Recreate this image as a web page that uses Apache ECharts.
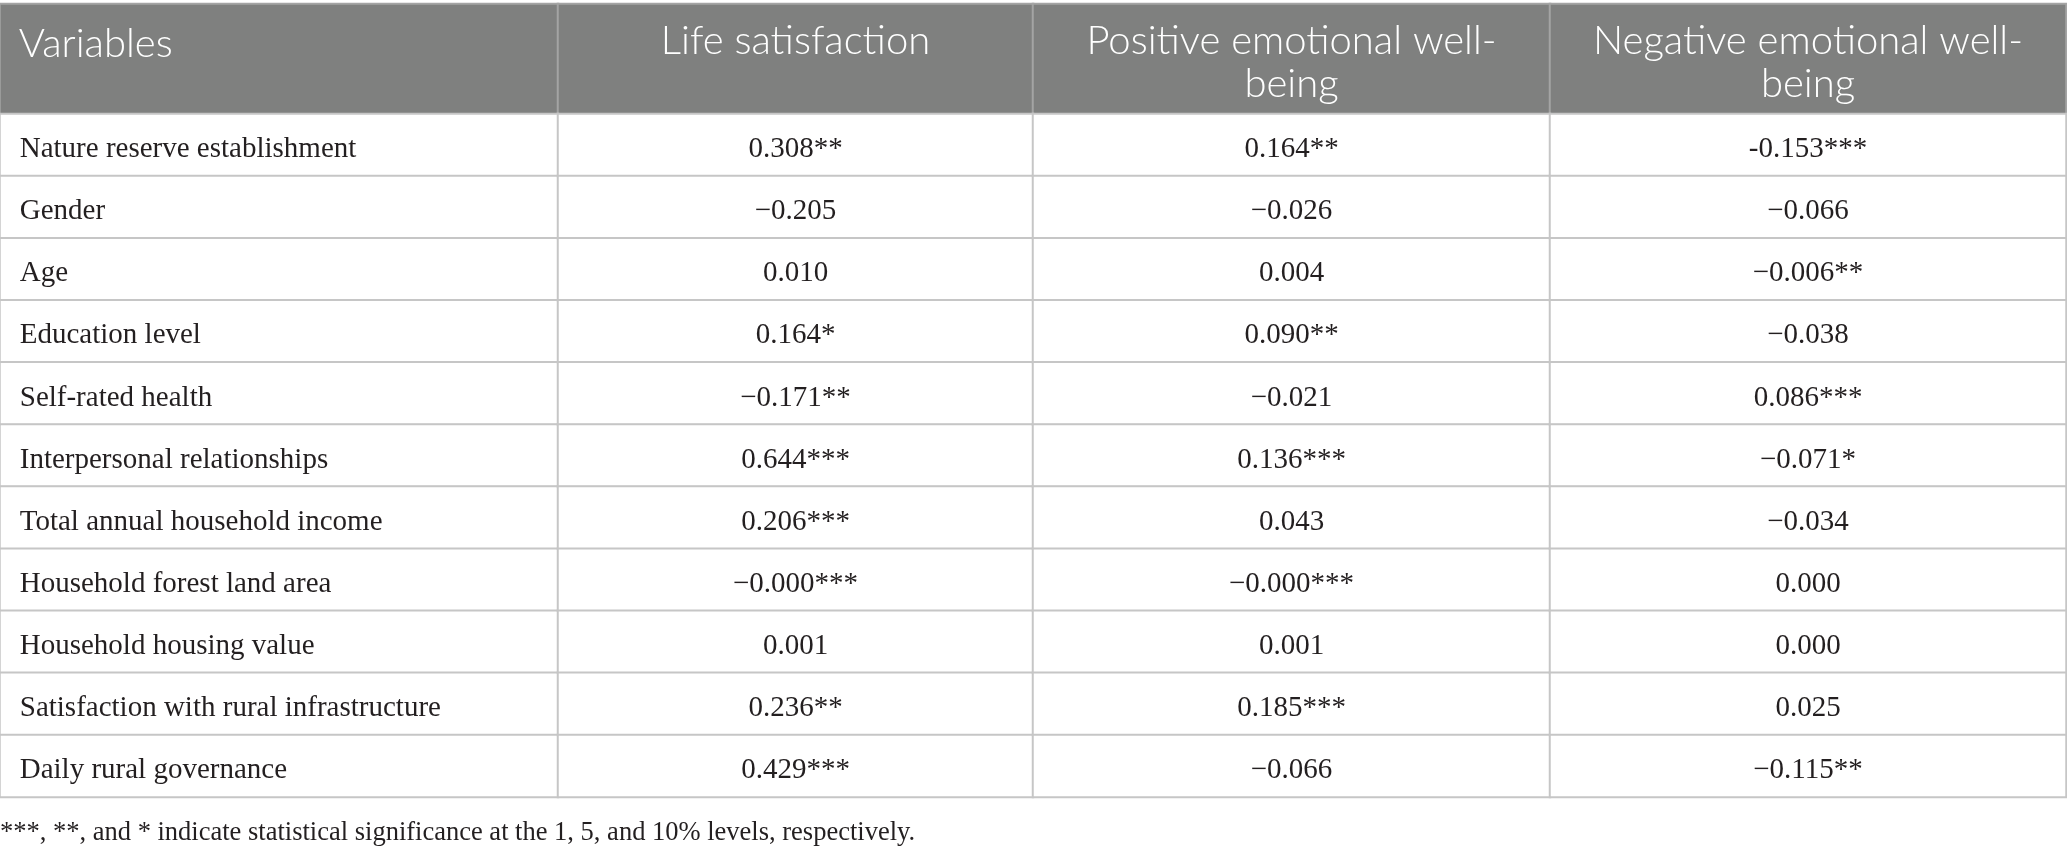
<!DOCTYPE html>
<html><head><meta charset="utf-8">
<script src="https://cdn.jsdelivr.net/npm/echarts@6/dist/echarts.min.js"></script>
<style>html,body{margin:0;padding:0;background:#fff}#c{width:2067px;height:851px}</style>
</head><body><div id="c"></div>
<script>
// ---- data ----
const columns = ['Variables', 'Life satisfaction', 'Positive emotional well-being', 'Negative emotional well-being'];
const variables = [
  'Nature reserve establishment', 'Gender', 'Age', 'Education level', 'Self-rated health',
  'Interpersonal relationships', 'Total annual household income', 'Household forest land area',
  'Household housing value', 'Satisfaction with rural infrastructure', 'Daily rural governance'
];
const lifeSatisfaction = ['0.308**', '\u22120.205', '0.010', '0.164*', '\u22120.171**', '0.644***', '0.206***', '\u22120.000***', '0.001', '0.236**', '0.429***'];
const positiveWellBeing = ['0.164**', '\u22120.026', '0.004', '0.090**', '\u22120.021', '0.136***', '0.043', '\u22120.000***', '0.001', '0.185***', '\u22120.066'];
const negativeWellBeing = ['-0.153***', '\u22120.066', '\u22120.006**', '\u22120.038', '0.086***', '\u22120.071*', '\u22120.034', '0.000', '0.000', '0.025', '\u22120.115**'];
const footnote = '***, **, and * indicate statistical significance at the 1, 5, and 10% levels, respectively.';

// ---- layout ----
const colEdges = [0, 558, 1033, 1550, 2066];
const headerTop = 4, headerBottom = 114, bodyBottom = 797;
const colTexts = [variables, lifeSatisfaction, positiveWellBeing, negativeWellBeing];
const toNum = s => parseFloat(String(s).replace('\u2212', '-').replace(/\*/g, ''));

const grid = [], xAxis = [], yAxis = [], series = [];
for (let c = 0; c < 4; c++) {
  grid.push({ left: colEdges[c], width: colEdges[c + 1] - colEdges[c], top: headerTop, height: headerBottom - headerTop });
}
for (let c = 0; c < 4; c++) {
  grid.push({ left: colEdges[c], width: colEdges[c + 1] - colEdges[c], top: headerBottom, height: bodyBottom - headerBottom });
}
for (let c = 0; c < 4; c++) {
  xAxis.push({ type: 'category', gridIndex: c, data: [columns[c]], show: false });
  yAxis.push({ type: 'category', gridIndex: c, data: ['header'], show: false });
}
for (let c = 0; c < 4; c++) {
  xAxis.push({ type: 'category', gridIndex: 4 + c, data: [columns[c]], show: false });
  yAxis.push({ type: 'category', gridIndex: 4 + c, data: variables, inverse: true, show: false });
}
// header cells
for (let c = 0; c < 4; c++) {
  series.push({
    type: 'heatmap', xAxisIndex: c, yAxisIndex: c, silent: true,
    data: [[0, 0, c]],
    itemStyle: { color: '#7f807f', borderColor: '#a4a4a4', borderWidth: 2 },
    emphasis: { disabled: true },
    label: {
      show: true,
      position: c === 0 ? 'insideTopLeft' : 'insideTop',
      distance: c === 0 ? 20 : 17,
      color: '#ffffff', fontFamily: 'Lato', fontWeight: 300, fontSize: 40, lineHeight: 43,
      align: c === 0 ? 'left' : 'center',
      formatter: () => columns[c].replace('well-', 'well-\n')
    }
  });
}
// body cells
for (let c = 0; c < 4; c++) {
  const texts = colTexts[c];
  series.push({
    type: 'heatmap', xAxisIndex: 4 + c, yAxisIndex: 4 + c, silent: true,
    data: texts.map((t, i) => [0, i, c === 0 ? i : toNum(t)]),
    itemStyle: { color: '#ffffff', borderColor: '#c6c6c6', borderWidth: 2 },
    emphasis: { disabled: true },
    label: {
      show: true,
      position: c === 0 ? 'insideLeft' : 'inside',
      distance: 21,
      offset: [0, 4.5],
      color: '#231f20', fontFamily: 'Liberation Serif', fontSize: 29,
      formatter: p => texts[p.dataIndex]
    }
  });
}

const chart = echarts.init(document.getElementById('c'), null, { renderer: 'canvas' });
chart.setOption({
  animation: false,
  backgroundColor: '#ffffff',
  title: {
    text: footnote, left: 0, top: 820, padding: 0,
    textStyle: { fontFamily: 'Liberation Serif', fontSize: 26.5, fontWeight: 'normal', color: '#231f20' }
  },
  grid, xAxis, yAxis, series
});
</script>
</body></html>
